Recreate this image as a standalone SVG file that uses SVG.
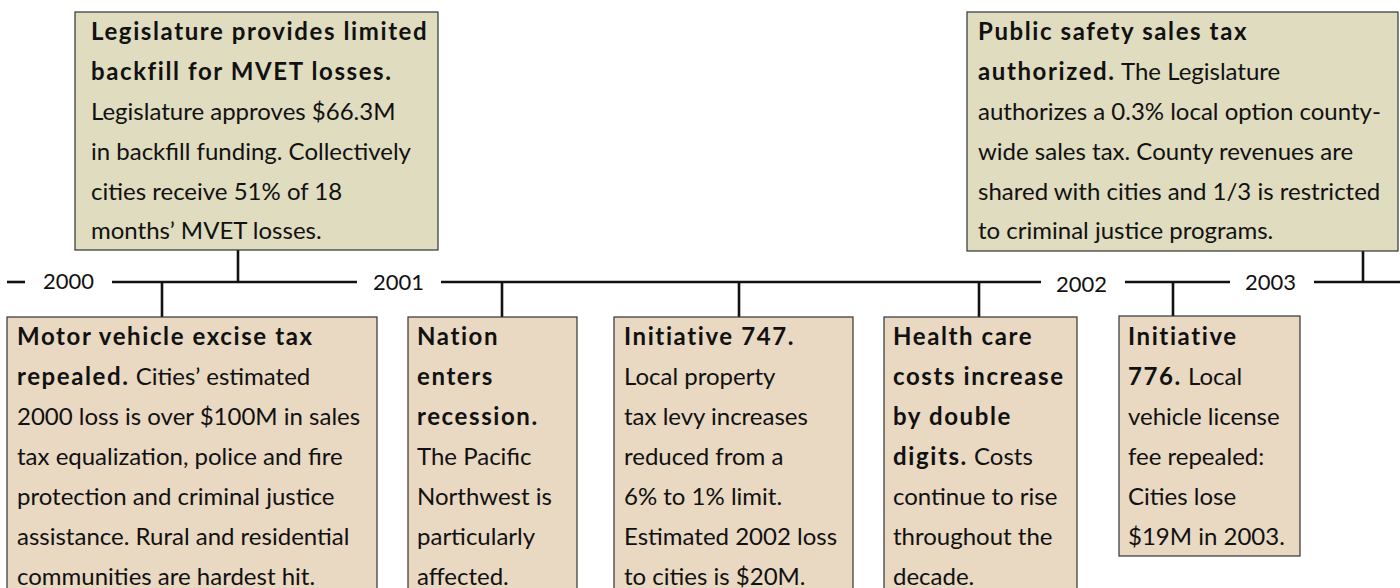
<svg xmlns="http://www.w3.org/2000/svg" width="1400" height="588" viewBox="0 0 1400 588">
  <style>
    .top { fill: #dfdcbf; stroke: #333; stroke-width: 1.2; }
    .bot { fill: #e9d8c2; stroke: #333; stroke-width: 1.2; }
    .line { stroke: #111; stroke-width: 2.6; fill: none; }
    text { font-family: Lato, "Liberation Sans", sans-serif; font-size: 24px; fill: #111; }
    .b { font-weight: bold; letter-spacing: 1.6px; }
    .yr { font-size: 22px; }
  </style>
  <rect width="1400" height="588" fill="#ffffff"/>

  <!-- timeline axis and drop lines -->
  <g id="connectors">
    <line class="line" x1="7" y1="282" x2="25" y2="282"/>
    <line class="line" x1="112" y1="282" x2="357" y2="282"/>
    <line class="line" x1="441" y1="282" x2="1041" y2="282"/>
    <line class="line" x1="1125" y1="282" x2="1230" y2="282"/>
    <line class="line" x1="1314" y1="282" x2="1400" y2="282"/>
    <line class="line" x1="238" y1="250" x2="238" y2="282"/>
    <line class="line" x1="1363" y1="251" x2="1363" y2="282"/>
    <line class="line" x1="162" y1="282" x2="162" y2="317"/>
    <line class="line" x1="502" y1="282" x2="502" y2="317"/>
    <line class="line" x1="739" y1="282" x2="739" y2="317"/>
    <line class="line" x1="979" y1="282" x2="979" y2="317"/>
    <line class="line" x1="1173" y1="282" x2="1173" y2="317"/>
  </g>

  <g id="years">
    <text class="yr" x="43" y="289">2000</text>
    <text class="yr" x="373" y="290">2001</text>
    <text class="yr" x="1056" y="292">2002</text>
    <text class="yr" x="1245" y="290">2003</text>
  </g>

  <g id="backfill">
    <rect class="top" x="75" y="12" width="363" height="238"/>
    <text x="91" y="40" class="b">Legislature provides limited</text>
    <text x="91" y="80" class="b">backfill for MVET losses.</text>
    <text x="91" y="120">Legislature approves $66.3M</text>
    <text x="91" y="160">in backfill funding. Collectively</text>
    <text x="91" y="200">cities receive 51% of 18</text>
    <text x="91" y="239">months’ MVET losses.</text>
  </g>

  <g id="safety-tax">
    <rect class="top" x="967" y="12" width="431" height="239"/>
    <text x="978" y="40" class="b">Public safety sales tax</text>
    <text x="978" y="80"><tspan class="b">authorized.</tspan> The Legislature</text>
    <text x="978" y="120">authorizes a 0.3% local option county-</text>
    <text x="978" y="160">wide sales tax. County revenues are</text>
    <text x="978" y="200">shared with cities and 1/3 is restricted</text>
    <text x="978" y="239">to criminal justice programs.</text>
  </g>

  <g id="mvet-repeal">
    <rect class="bot" x="7" y="317" width="370" height="290"/>
    <text x="17" y="345" class="b">Motor vehicle excise tax</text>
    <text x="17" y="385"><tspan class="b">repealed.</tspan> Cities’ estimated</text>
    <text x="17" y="425">2000 loss is over $100M in sales</text>
    <text x="17" y="465">tax equalization, police and fire</text>
    <text x="17" y="505">protection and criminal justice</text>
    <text x="17" y="545">assistance. Rural and residential</text>
    <text x="17" y="585">communities are hardest hit.</text>
  </g>

  <g id="recession">
    <rect class="bot" x="408" y="317" width="169" height="290"/>
    <text x="417" y="345" class="b">Nation</text>
    <text x="417" y="385" class="b">enters</text>
    <text x="417" y="425" class="b">recession.</text>
    <text x="417" y="465">The Pacific</text>
    <text x="417" y="505">Northwest is</text>
    <text x="417" y="545">particularly</text>
    <text x="417" y="585">affected.</text>
  </g>

  <g id="i747">
    <rect class="bot" x="614" y="317" width="239" height="290"/>
    <text x="624" y="345" class="b">Initiative 747.</text>
    <text x="624" y="385">Local property</text>
    <text x="624" y="425">tax levy increases</text>
    <text x="624" y="465">reduced from a</text>
    <text x="624" y="505">6% to 1% limit.</text>
    <text x="624" y="545">Estimated 2002 loss</text>
    <text x="624" y="585">to cities is $20M.</text>
  </g>

  <g id="health-care">
    <rect class="bot" x="884" y="317" width="193" height="290"/>
    <text x="893" y="345" class="b">Health care</text>
    <text x="893" y="385" class="b">costs increase</text>
    <text x="893" y="425" class="b">by double</text>
    <text x="893" y="465"><tspan class="b">digits.</tspan> Costs</text>
    <text x="893" y="505">continue to rise</text>
    <text x="893" y="545">throughout the</text>
    <text x="893" y="585">decade.</text>
  </g>

  <g id="i776">
    <rect class="bot" x="1119" y="316" width="181" height="240"/>
    <text x="1128" y="345" class="b">Initiative</text>
    <text x="1128" y="385"><tspan class="b">776.</tspan> Local</text>
    <text x="1128" y="425">vehicle license</text>
    <text x="1128" y="465">fee repealed:</text>
    <text x="1128" y="505">Cities lose</text>
    <text x="1128" y="545">$19M in 2003.</text>
  </g>
</svg>
